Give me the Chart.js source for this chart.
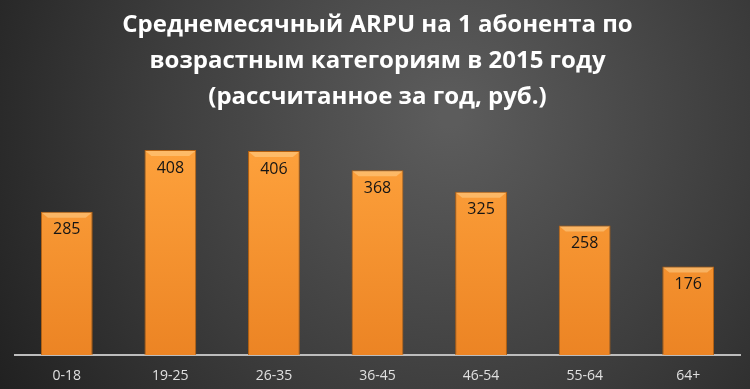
<!DOCTYPE html>
<html>
<head>
<meta charset="utf-8">
<script src="https://cdn.jsdelivr.net/npm/chart.js@4"></script>
<style>
  html, body { margin: 0; padding: 0; background: #333; }
  #wrap { width: 750px; height: 389px; }
</style>
</head>
<body>
<div id="wrap"><canvas id="chart"></canvas></div>
<script>
const categories = ['0-18', '19-25', '26-35', '36-45', '46-54', '55-64', '64+']
const arpuValues = [285, 408, 406, 368, 325, 258, 176]
const titleLines = ['Среднемесячный ARPU на 1 абонента по', 'возрастным категориям в 2015 году', '(рассчитанное за год, руб.)']

const crt = document.getElementById('chart')

// dark radial background
const bgPlugin = {
    id: 'bg',
    beforeDraw(chart) {
        const ctx = chart.ctx
        const w = chart.width, h = chart.height
        const g = ctx.createRadialGradient(w * 0.6, h * 0.3, 10, w * 0.6, h * 0.3, w * 0.72)
        g.addColorStop(0, '#5c5c5c')
        g.addColorStop(0.55, '#3c3c3c')
        g.addColorStop(1, '#1f1f1f')
        ctx.save()
        ctx.fillStyle = g
        ctx.fillRect(0, 0, w, h)
        ctx.restore()
    }
}

// value labels inside the bar tops + a light bevel on each bar top
const labelPlugin = {
    id: 'vals',
    afterDatasetsDraw(chart) {
        const ctx = chart.ctx
        const meta = chart.getDatasetMeta(0)
        ctx.save()
        meta.data.forEach((bar, i) => {
            const half = bar.width / 2
            ctx.fillStyle = 'rgba(255, 220, 160, 0.45)'
            ctx.beginPath()
            ctx.moveTo(bar.x - half + 1, bar.y + 1)
            ctx.lineTo(bar.x + half - 1, bar.y + 1)
            ctx.lineTo(bar.x + half - 7, bar.y + 6)
            ctx.lineTo(bar.x - half + 7, bar.y + 6)
            ctx.closePath()
            ctx.fill()
        })
        ctx.font = '16px "Open Sans"'
        ctx.fillStyle = '#151515'
        ctx.textAlign = 'center'
        ctx.textBaseline = 'middle'
        meta.data.forEach((bar, i) => {
            ctx.fillText(arpuValues[i], bar.x, bar.y + 18)
        })
        ctx.restore()
    }
}

new Chart(crt, {
    type: 'bar',
    data: {
        labels: categories,
        datasets: [
            {
                label: 'ARPU',
                data: arpuValues,
                backgroundColor: (c) => {
                    const area = c.chart.chartArea
                    if (!area) return '#f39228'
                    const g = c.chart.ctx.createLinearGradient(0, area.top, 0, area.bottom)
                    g.addColorStop(0, '#ffa43e')
                    g.addColorStop(1, '#ec8424')
                    return g
                },
                borderColor: '#b8620f',
                borderWidth: 1,
                categoryPercentage: 1,
                barPercentage: 0.5
            }
        ]
    },
    options: {
        responsive: true,
        maintainAspectRatio: false,
        animation: false,
        layout: { padding: { left: 15, right: 10, top: 0, bottom: 0 } },
        plugins: {
            legend: { display: false },
            tooltip: { enabled: false },
            title: {
                display: true,
                text: titleLines,
                color: '#ffffff',
                font: { family: '"Open Sans"', size: 24, weight: 'bold', lineHeight: 1.5 },
                padding: { top: 7, bottom: 14 }
            }
        },
        scales: {
            x: {
                grid: { display: false, drawTicks: false },
                border: { display: true, color: '#bdbdbd', width: 2 },
                ticks: { color: '#e0e0e0', font: { family: '"Open Sans"', size: 14 }, padding: 13 },
                afterFit(scale) { scale.height = 34 }
            },
            y: {
                display: false,
                min: 0,
                max: 450
            }
        }
    },
    plugins: [bgPlugin, labelPlugin]
})
</script>
</body>
</html>
